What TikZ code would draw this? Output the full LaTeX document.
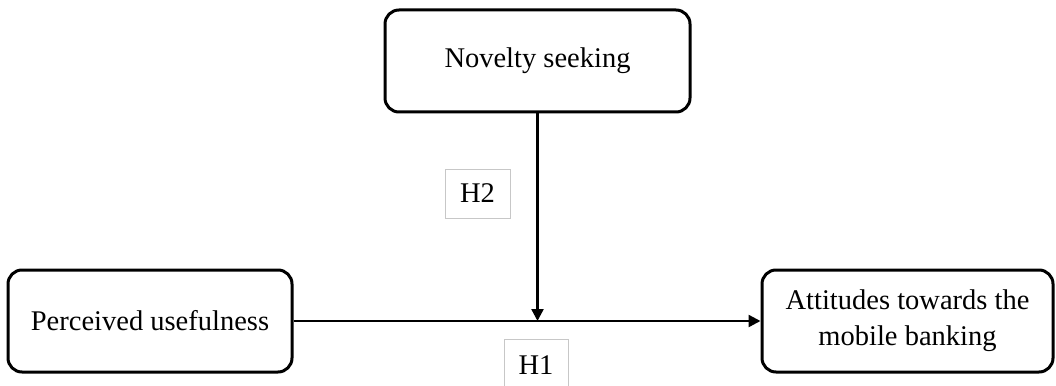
\documentclass[tikz,border=0pt]{standalone}
\usepackage{fontspec}
\setmainfont{Liberation Serif}
\usetikzlibrary{arrows.meta}
\begin{document}
\begin{tikzpicture}[x=1pt,y=-1pt,
  box/.style={draw=black,line width=3pt,rounded corners=14pt,fill=white,
    inner sep=0pt,align=center,font=\fontsize{28.5}{36}\selectfont},
  lab/.style={draw=black!22,line width=0.8pt,inner sep=0pt,font=\fontsize{28.5}{32}\selectfont},
  conn/.style={line width=2.4pt,-{Triangle[length=12pt,width=12pt]}}]
\useasboundingbox (0,0) rectangle (1056,385);
\node[box,minimum width=305pt,minimum height=102pt] (N) at (537.5,61) {Novelty seeking};
\node[box,minimum width=284pt,minimum height=102pt] (P) at (150,321) {Perceived usefulness};
\node[box,minimum width=291pt,minimum height=102pt] (A) at (907.5,321) {Attitudes towards the\\mobile banking};
\node[lab,minimum width=65pt,minimum height=49pt] (H2) at (477.5,193.5) {H2};
\node[lab,minimum width=64pt,minimum height=52pt] (H1) at (536,365) {H1};
\draw[conn] (P.east) -- (A.west);
\coordinate (J) at (N.south |- P.east);
\draw[conn] (N.south) -- (J);
\end{tikzpicture}
\end{document}
